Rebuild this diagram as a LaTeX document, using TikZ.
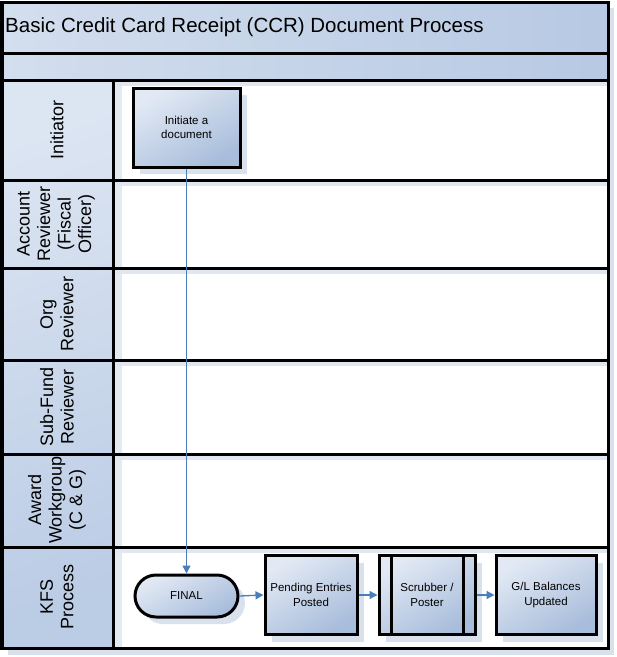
\documentclass[tikz,border=0pt]{standalone}
\usepackage{fontspec}
\setmainfont{Liberation Sans}
\usetikzlibrary{arrows.meta,shapes.misc,shadows}
\definecolor{bandA}{HTML}{D3DEEE}
\definecolor{bandB}{HTML}{B7C9E3}
\definecolor{hdrA}{HTML}{DCE5F2}
\definecolor{hdrB}{HTML}{BBCCE5}
\definecolor{boxA}{HTML}{E2E9F4}
\definecolor{boxB}{HTML}{A8BDDB}
\definecolor{shadowc}{HTML}{D9E1EC}
\definecolor{flowc}{HTML}{4A7EBB}
\tikzset{
  frame/.style={line width=3pt, draw=black},
  lanelabel/.style={rotate=90, align=center, font=\fontsize{18}{20.5}\selectfont, inner sep=0pt},
  procbox/.style={draw=black, line width=3pt, top color=boxA, bottom color=boxB, shading angle=30,
    align=center, font=\fontsize{11.5}{14.5}\selectfont, inner sep=2pt,
    drop shadow={shadow xshift=7pt, shadow yshift=-7pt, fill=shadowc, opacity=1}},
  termbox/.style={procbox, rounded rectangle},
  flow/.style={draw=flowc, line width=1.3pt, -{Triangle[length=8pt,width=8pt]}},
}
\begin{document}
\begin{tikzpicture}[x=1pt,y=-1pt]
\useasboundingbox (0,0) rectangle (617,657);
\fill[white] (0,0) rectangle (617,657);
% outer shadows
\fill[shadowc] (8,648) rectangle (614,655);
\fill[shadowc] (608,8) rectangle (614,655);
% title bands
\shade[left color=bandA, right color=bandB] (2,2) rectangle (608,53);
\shade[left color=bandA, right color=bandB] (2,53) rectangle (608,80);
% header column
\shade[top color=hdrA, bottom color=hdrB, shading angle=20] (2,80) rectangle (113,648);
% subtle lane shadows
\fill[shadowc!70] (114,80) rectangle (122,648);
\foreach \yy in {80,180,268,360,454,547} {\fill[shadowc!80] (114,\yy+2) rectangle (608,\yy+6);}
% title text
\node[anchor=west, font=\fontsize{20.5}{24}\selectfont, inner sep=0pt] (title) at (5,27) {Basic Credit Card Receipt (CCR) Document Process};
% frame lines
\draw[frame] (2,2) rectangle (608,648);
\draw[frame] (2,53) -- (608,53);
\draw[frame] (2,80) -- (608,80);
\foreach \yy in {180,268,360,454,547} {\draw[frame] (2,\yy) -- (608,\yy);}
\draw[frame] (113,80) -- (113,648);
% lane labels
\node[lanelabel] (lInit) at (57,130) {Initiator};
\node[lanelabel] (lAcct) at (56,224) {Account\\Reviewer\\(Fiscal\\Officer)};
\node[lanelabel] (lOrg) at (57,314) {Org\\Reviewer};
\node[lanelabel] (lSub) at (57,407) {Sub-Fund\\Reviewer};
\node[lanelabel] (lAward) at (57,500) {Award\\Workgroup\\(C \& G)};
\node[lanelabel] (lKFS) at (57,597) {KFS\\Process};
% process boxes
\node[procbox, minimum width=107pt, minimum height=79pt] (init) at (186.5,127.5) {Initiate a\\document};
\node[termbox, minimum width=107pt, minimum height=42pt] (final) at (186.5,596) {FINAL};
\node[procbox, minimum width=92pt, minimum height=79pt] (pend) at (311,595) {Pending Entries\\Posted};
\node[procbox, minimum width=96pt, minimum height=79pt] (scrub) at (427,595) {Scrubber /\\Poster};
\draw[line width=3pt] ([xshift=14pt]scrub.north west) -- ([xshift=14pt]scrub.south west);
\draw[line width=3pt] ([xshift=-13pt]scrub.north east) -- ([xshift=-13pt]scrub.south east);
\node[procbox, minimum width=100pt, minimum height=79pt] (gl) at (546,595) {G/L Balances\\Updated};
% connectors
\draw[flow] (init.south) -- (final.north);
\draw[flow] (final.east) -- (pend.west);
\draw[flow] (pend.east) -- (scrub.west);
\draw[flow] (scrub.east) -- (gl.west);
\end{tikzpicture}
\end{document}
